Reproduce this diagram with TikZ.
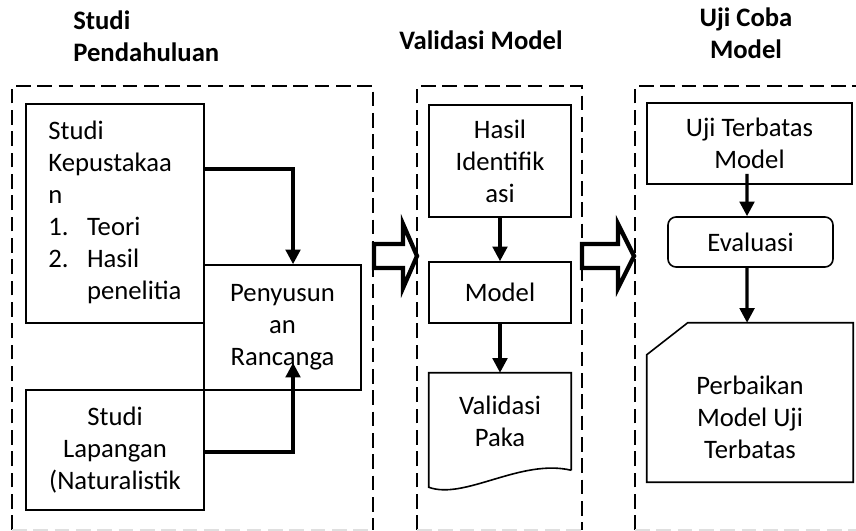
\documentclass[tikz,border=0pt]{standalone}
\usepackage{fontspec}
\setmainfont{Carlito}
\usetikzlibrary{arrows.meta,positioning}
\tikzset{
  every node/.style={font=\fontsize{20}{24}\selectfont},
  box/.style={draw,line width=1.2pt,align=center,inner sep=0pt},
  title/.style={font=\fontsize{20}{24}\selectfont\bfseries,inner sep=0pt},
  panel/.style={dash pattern=on 11pt off 5pt,line width=1.5pt},
  flow/.style={line width=2.4pt,-{Stealth[length=11pt,width=11pt,inset=0pt]}},
  bigarrow/.style={line width=3.2pt,fill=white,miter limit=10}
}
\begin{document}
\begin{tikzpicture}[x=0.75pt,y=-0.75pt]
\useasboundingbox (0,0) rectangle (856,531);

\draw[panel] (12,530) -- (12,86) -- (373,86) -- (373,530);
\draw[panel] (417,530) -- (417,86) -- (582,86) -- (582,530);
\draw[panel] (635,530) -- (635,86) -- (870,86);
\draw[panel,gray!25] (12,530) -- (373,530) (417,530) -- (582,530) (635,530) -- (870,530);

\node[title,align=left,anchor=west] (tpendahuluan) at (73,36) {Studi\\Pendahuluan};
\node[title] (tvalidasi) at (481,40) {Validasi Model};
\node[title,align=center] (tujicoba) at (746,33) {Uji Coba\\Model};

\node[box,minimum width=133.5pt,minimum height=164.25pt] (kepustakaan) at (115,213.5) {%
  \begin{tabular}{@{}p{29pt}@{}l@{}}
  \multicolumn{2}{@{}l@{}}{Studi}\\
  \multicolumn{2}{@{}l@{}}{Kepustakaa}\\
  \multicolumn{2}{@{}l@{}}{n}\\
  1. & Teori\\
  2. & Hasil\\
     & penelitia
  \end{tabular}};
\node[box,minimum width=117.75pt,minimum height=93.75pt] (rancangan) at (282.5,327.5) {Penyusun\\an\\Rancanga};
\node[box,minimum width=133.5pt,minimum height=90pt] (lapangan) at (115,450) {Studi\\Lapangan\\(Naturalistik};

\node[box,minimum width=106.5pt,minimum height=84pt] (identifikasi) at (500,161) {Hasil\\Identifik\\asi};
\node[box,minimum width=106.5pt,minimum height=45.75pt] (model) at (500,292.5) {Model};
\node[align=center,inner sep=0pt,minimum width=106.5pt,minimum height=72.75pt] (pakar) at (500,421.5) {Validasi\\Paka};
\draw[line width=1.2pt] (pakar.south east) -- (pakar.north east) -- (pakar.north west) -- ([yshift=-12.75pt]pakar.south west)
  .. controls ([xshift=27pt,yshift=-22.5pt]pakar.south west) and ([xshift=-38pt,yshift=9pt]pakar.south east) .. (pakar.south east);

\node[box,minimum width=153.75pt,minimum height=60.75pt] (ujiterbatas) at (749.5,143.5) {Uji Terbatas\\Model};
\node[box,rounded corners=6pt,minimum width=123.75pt,minimum height=37.5pt] (evaluasi) at (750.5,242) {Evaluasi};
\node[inner sep=0pt,minimum width=154.5pt,minimum height=119.25pt] (perbaikan) at (750,402.5) {};
\draw[line width=1.2pt] ([yshift=-24pt]perbaikan.north west) -- ([xshift=30.75pt]perbaikan.north west)
  -- (perbaikan.north east) -- (perbaikan.south east) -- (perbaikan.south west) -- cycle;
\node[align=center] (perbaikantxt) at (750,417) {Perbaikan\\Model Uji\\Terbatas};

\draw[flow] ([yshift=33.4pt]kepustakaan.east) -| ([xshift=7.9pt]rancangan.north);
\draw[flow] ([yshift=-1.5pt]lapangan.east) -| ([xshift=7.9pt,yshift=21pt]rancangan.south);
\draw[flow] (identifikasi) -- (model);
\draw[flow] (model) -- (pakar);
\draw[flow] ([xshift=-1.9pt,yshift=8.25pt]ujiterbatas.south) -- ([xshift=-2.6pt]evaluasi.north);
\draw[flow] ([xshift=-2.6pt]evaluasi.south) -- ([xshift=-2.2pt]perbaikan.north);

\draw[bigarrow] (374,244) -- (403,244) -- (403,224) -- (417,256) -- (403,288) -- (403,268) -- (374,268) -- cycle;
\draw[bigarrow] (582,244) -- (618,244) -- (618,224) -- (634,256) -- (618,288) -- (618,268) -- (582,268) -- cycle;
\end{tikzpicture}
\end{document}
